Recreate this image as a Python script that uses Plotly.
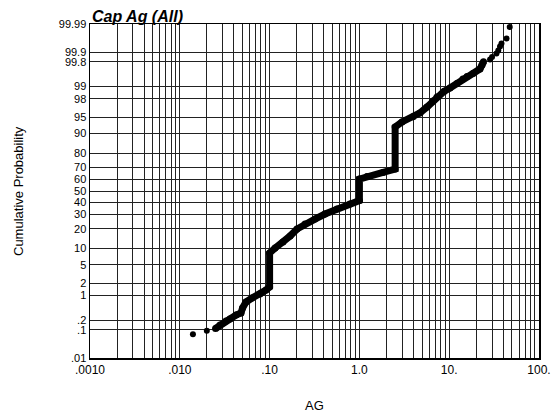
import plotly.graph_objects as go
from statistics import NormalDist

# ---- data (AG value, cumulative probability in %) ----
body_ag = [0.025, 0.028, 0.0327, 0.0362, 0.0423, 0.048, 0.05, 0.0546, 0.0637, 0.0782,
           0.0912, 0.1, 0.1, 0.115, 0.141, 0.169, 0.202, 0.248, 0.32, 0.414,
           0.563, 0.786, 1.0, 1.0, 1.215, 1.83, 2.5, 2.5, 2.98, 3.95,
           4.73, 5.66, 6.6, 7.31, 8.75, 10.2, 12.2, 14.2, 15.8, 18.4,
           22.0, 23.2, 24.1]
body_prob = [0.11, 0.142, 0.19, 0.218, 0.287, 0.33, 0.458, 0.672, 0.859, 1.09,
             1.37, 1.63, 8.37, 10.2, 12.8, 15.8, 19.9, 23.1, 26.6, 30.4,
             34.4, 38.6, 41.6, 60.5, 62.7, 66.0, 68.8, 92.3, 93.8, 95.1,
             95.9, 96.93, 97.75, 98.18, 98.67, 98.91, 99.17, 99.37, 99.46, 99.556,
             99.67, 99.75, 99.80]

tail_ag = [0.014, 0.020, 28.5, 30.0, 33.6, 35.2, 36.8, 38.2, 43.5, 47.2]
tail_prob = [0.0707, 0.093, 99.83, 99.858, 99.89, 99.912, 99.935, 99.949, 99.966, 99.987]

x_tick_values = [0.001, 0.01, 0.1, 1, 10, 100]
x_tick_labels = [".0010", ".010", ".10", "1.0", "10.", "100."]

y_tick_probs = [0.01, 0.1, 0.2, 1, 2, 5, 10, 20, 30, 40, 50, 60, 70, 80, 90, 95, 98, 99,
                99.8, 99.9, 99.99]
y_tick_labels = [".01", ".1", ".2", "1", "2", "5", "10", "20", "30", "40", "50", "60",
                 "70", "80", "90", "95", "98", "99", "99.8", "99.9", "99.99"]

# ---- probability scale (normal quantile) ----
nd = NormalDist()


def zscale(p):
    return nd.inv_cdf(p / 100.0)


# x grid: every 1..9 multiple of each decade, labelled only at decades
x_grid_vals, x_grid_text = [], []
for dec, lab in zip(x_tick_values[:-1], x_tick_labels[:-1]):
    for m in range(1, 10):
        x_grid_vals.append(dec * m)
        x_grid_text.append(lab if m == 1 else "")
x_grid_vals.append(x_tick_values[-1])
x_grid_text.append(x_tick_labels[-1])

fig = go.Figure()
fig.add_trace(go.Scatter(
    x=body_ag, y=[zscale(p) for p in body_prob],
    mode="lines+markers",
    line=dict(color="black", width=7),
    marker=dict(color="black", size=7),
    showlegend=False, hoverinfo="skip",
))
fig.add_trace(go.Scatter(
    x=tail_ag, y=[zscale(p) for p in tail_prob],
    mode="markers",
    marker=dict(color="black", size=6),
    showlegend=False, hoverinfo="skip",
))

font_family = "Liberation Sans, Arial, sans-serif"
plot_w = 449
plot_h = 334

fig.update_layout(
    width=554, height=414,
    margin=dict(l=90, r=15, t=24, b=56, autoexpand=False),
    paper_bgcolor="white", plot_bgcolor="white",
    font=dict(family=font_family, size=12, color="black"),
    annotations=[
        dict(text="<b><i>Cap Ag (All)</i></b>", xref="paper", yref="paper",
             x=0, y=1, xanchor="left", yanchor="bottom", showarrow=False,
             font=dict(size=16, family=font_family, color="black"), yshift=-3),
        dict(text="Cumulative Probability", xref="paper", yref="paper",
             x=(18 - 90) / plot_w, y=0.5, xanchor="center", yanchor="middle",
             textangle=-90, showarrow=False, font=dict(size=13)),
        dict(text="AG", xref="paper", yref="paper",
             x=0.5, y=-(405 - 358) / plot_h, xanchor="center", yanchor="middle",
             showarrow=False, font=dict(size=13)),
    ],
)

fig.update_xaxes(
    type="log", range=[-3, 2], automargin=False,
    tickmode="array", tickvals=x_grid_vals, ticktext=x_grid_text,
    showgrid=True, gridcolor="#222222", gridwidth=1,
    showline=True, linecolor="black", linewidth=1.5, mirror=True,
    ticks="", zeroline=False,
    tickfont=dict(size=12),
)
fig.update_yaxes(
    range=[zscale(0.01), zscale(99.99)], automargin=False,
    tickmode="array", tickvals=[zscale(p) for p in y_tick_probs], ticktext=y_tick_labels,
    showgrid=True, gridcolor="#222222", gridwidth=1,
    showline=True, linecolor="black", linewidth=1.5, mirror=True,
    ticks="", zeroline=False,
    tickfont=dict(size=11),
)

fig.write_html(
    "out.html",
    config={"displayModeBar": False, "staticPlot": True},
    post_script="document.body.style.margin='0px';document.body.style.overflow='hidden';",
)
